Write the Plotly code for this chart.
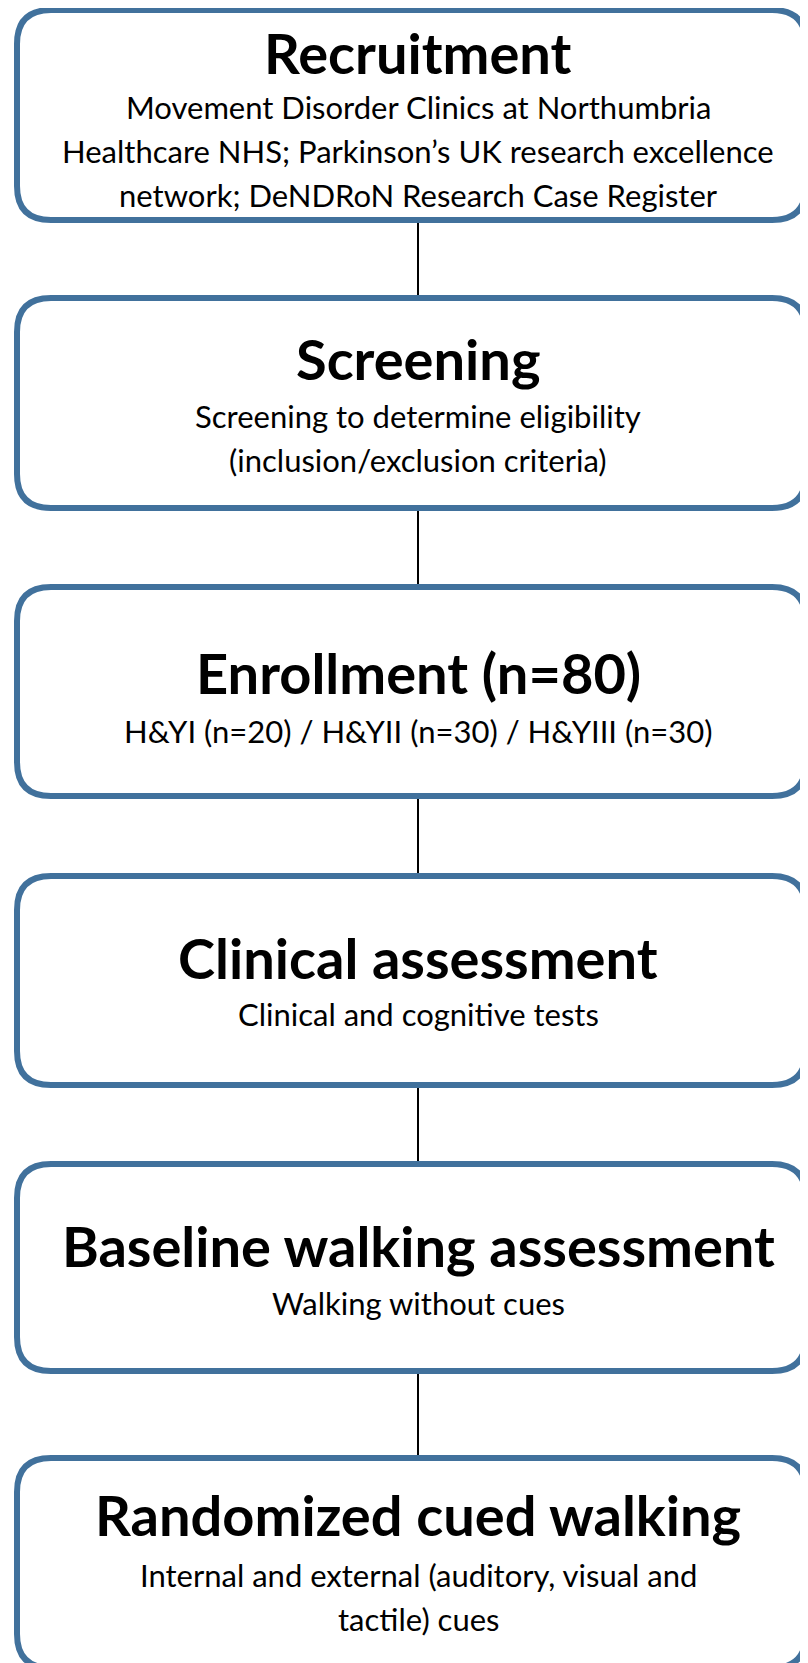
import plotly.graph_objects as go

# ---- content ----
titles = [
    "Recruitment",
    "Screening",
    "Enrollment (n=80)",
    "Clinical assessment",
    "Baseline walking assessment",
    "Randomized cued walking",
]
subtitles = [
    ["Movement Disorder Clinics at Northumbria",
     "Healthcare NHS; Parkinson\u2019s UK research excellence",
     "network; DeNDRoN Research Case Register"],
    ["Screening to determine eligibility",
     "(inclusion/exclusion criteria)"],
    ["H&YI (n=20) / H&YII (n=30) / H&YIII (n=30)"],
    ["Clinical and cognitive tests"],
    ["Walking without cues"],
    ["Internal and external (auditory, visual and",
     "tactile) cues"],
]

# ---- layout (pixel geometry, in page coordinates) ----
W, H = 808, 1663
OFF = 8  # page body margin: figure is drawn 8px right/down of the window corner
box_top = [10, 298, 587, 876, 1164, 1458]
box_bot = [220, 508, 796, 1085, 1371, 1668]
box_left, box_right = 17, 806
radius = 34
title_y = [52, 358, 672, 957, 1245, 1514]
sub_first_y = [107, 416, 731, 1014, 1303, 1575]
sub_gap = 44
cx = 418
stroke = "#41719C"
FONT = "Lato"

fig = go.Figure()
fig.add_trace(go.Scatter(x=[OFF, W + OFF], y=[OFF, H + OFF], mode="markers",
                         marker=dict(opacity=0), hoverinfo="skip", showlegend=False))

def rrect(x0, y0, x1, y1, r):
    return (f"M {x0+r},{y0} L {x1-r},{y0} Q {x1},{y0} {x1},{y0+r} "
            f"L {x1},{y1-r} Q {x1},{y1} {x1-r},{y1} L {x0+r},{y1} "
            f"Q {x0},{y1} {x0},{y1-r} L {x0},{y0+r} Q {x0},{y0} {x0+r},{y0} Z")

shapes = []
for i in range(len(titles)):
    if i < len(titles) - 1:
        shapes.append(dict(type="line", xref="x", yref="y",
                           x0=cx, x1=cx, y0=box_bot[i], y1=box_top[i + 1],
                           line=dict(color="black", width=2), layer="below"))
for i in range(len(titles)):
    shapes.append(dict(type="path", xref="x", yref="y",
                       path=rrect(box_left, box_top[i], box_right, box_bot[i], radius),
                       line=dict(color=stroke, width=6), fillcolor="white"))

annotations = []
for i, t in enumerate(titles):
    annotations.append(dict(x=cx, y=title_y[i], xref="x", yref="y", text=f"<b>{t}</b>",
                            showarrow=False, xanchor="center", yanchor="middle",
                            font=dict(family=FONT, size=56, color="black")))
    for j, s in enumerate(subtitles[i]):
        annotations.append(dict(x=cx, y=sub_first_y[i] + j * sub_gap, xref="x", yref="y",
                                text=s, showarrow=False, xanchor="center", yanchor="middle",
                                font=dict(family=FONT, size=31, color="black")))

fig.update_layout(
    width=W, height=H, margin=dict(l=0, r=0, t=0, b=0),
    paper_bgcolor="white", plot_bgcolor="white",
    xaxis=dict(range=[OFF, W + OFF], visible=False, fixedrange=True),
    yaxis=dict(range=[H + OFF, OFF], visible=False, fixedrange=True),
    shapes=shapes, annotations=annotations, showlegend=False,
)
fig.write_html("out.html")
